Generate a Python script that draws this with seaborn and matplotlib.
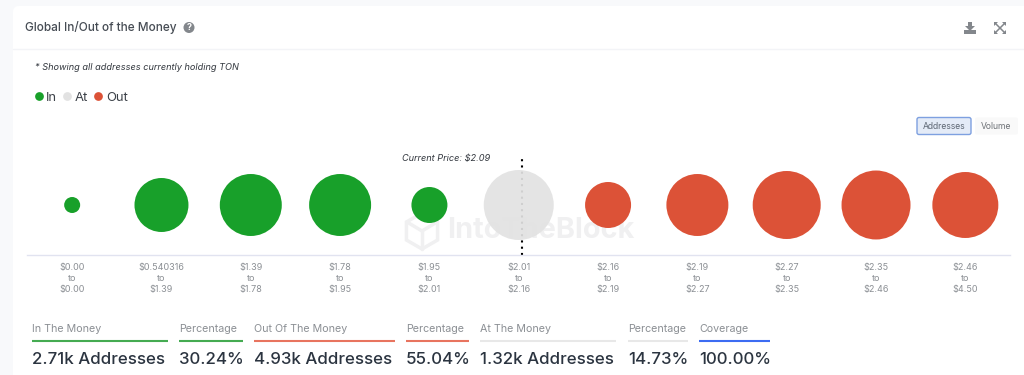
import pandas as pd
import matplotlib.pyplot as plt
import seaborn as sns
from matplotlib.lines import Line2D
from matplotlib.patches import Circle, FancyBboxPatch, Polygon, Rectangle, RegularPolygon

# Values
range_from = ['$0.00', '$0.540316', '$1.39', '$1.78', '$1.95', '$2.01', '$2.16', '$2.19', '$2.27', '$2.35', '$2.46']
range_to = ['$0.00', '$1.39', '$1.78', '$1.95', '$2.01', '$2.16', '$2.19', '$2.27', '$2.35', '$2.46', '$4.50']
addresses = [69, 785, 1035, 1035, 349, 1320, 570, 1035, 1246, 1282, 1173]
zones = ['In', 'In', 'In', 'In', 'In', 'At', 'Out', 'Out', 'Out', 'Out', 'Out']
current_price_pos = 5.04

stat_titles = ['In The Money', 'Percentage', 'Out Of The Money', 'Percentage', 'At The Money', 'Percentage', 'Coverage']
stat_values = ['2.71k Addresses', '30.24%', '4.93k Addresses', '55.04%', '1.32k Addresses', '14.73%', '100.00%']

zone_colors = {'In': '#18a02a', 'At': '#e2e2e2', 'Out': '#dc5237'}
stat_colors = ['#45ab52', '#45ab52', '#e8745f', '#e8745f', '#e8e8e8', '#e8e8e8', '#3c6cf2']
stat_left = [32, 179, 254, 406, 480, 628, 699]
stat_right = [168, 243, 395, 469, 616, 688, 770]

W, H = 1024, 375
TEXT_DARK = '#2b3440'
TEXT_GREY = '#8b8f94'
ICON_GREY = '#83878c'


def px_size(d):
    # bubble diameter in pixels to scatter area in pt^2
    return (d * 0.72) ** 2


def draw_chrome(bg):
    bg.add_patch(Rectangle((0, 0), W, H, fc='#f8f9fb', ec='none'))
    bg.add_patch(FancyBboxPatch((13, 6), W + 40, H + 40, boxstyle='round,pad=0,rounding_size=6', fc='white', ec='none'))
    bg.plot([13, W], [48.5, 48.5], color='#f3f4f7', lw=1)

    bg.text(25, 28, 'Global In/Out of the Money', fontsize=8.5, color='#464c54', fontweight='medium', va='center')
    bg.add_patch(Circle((189, 27.5), 5.5, fc=ICON_GREY, ec='none'))
    bg.text(189, 27.8, '?', fontsize=6.5, color='white', fontweight='bold', ha='center', va='center')
    bg.text(35, 67, '* Showing all addresses currently holding TON', fontsize=6.6, color='#33383f', style='italic', va='center')

    # download icon
    bg.add_patch(Rectangle((964, 30), 12, 4, fc=ICON_GREY, ec='none'))
    bg.add_patch(Polygon([[968, 22], [972, 22], [972, 26], [975, 26], [970, 31], [965, 26], [968, 26]], fc=ICON_GREY, ec='none'))
    # expand icon
    bg.plot([995, 1005], [23, 33], color=ICON_GREY, lw=1.1)
    bg.plot([995, 1005], [33, 23], color=ICON_GREY, lw=1.1)
    for cx, cy, sx, sy in [(995, 23, 1, 1), (1005, 23, -1, 1), (995, 33, 1, -1), (1005, 33, -1, -1)]:
        bg.add_patch(Polygon([[cx - sx, cy - sy], [cx + 3 * sx, cy - sy], [cx - sx, cy + 3 * sy]], fc=ICON_GREY, ec='none'))

    # Addresses / Volume toggle
    bg.add_patch(FancyBboxPatch((917, 117.5), 54, 17, boxstyle='round,pad=0,rounding_size=2', fc='#e4ebf7', ec='#7ea0e0', lw=1))
    bg.add_patch(FancyBboxPatch((975, 117.5), 43, 17, boxstyle='round,pad=0,rounding_size=2', fc='#f9f9f9', ec='none'))
    bg.text(944, 126.3, 'Addresses', fontsize=6.2, color='#5d6673', ha='center', va='center')
    bg.text(996, 126.3, 'Volume', fontsize=6.2, color='#6e7277', ha='center', va='center')

    # watermark
    logo = '#f0f0f1'
    bg.add_patch(RegularPolygon((422, 231), 6, radius=18, fill=False, ec=logo, lw=2.5))
    bg.plot([407, 422, 437], [222, 231, 222], color=logo, lw=2.5)
    bg.plot([422, 422], [231, 249], color=logo, lw=2.5)
    bg.text(447, 231, 'IntoTheBlock', fontsize=20.8, color=logo, fontweight='bold', va='center')

    bg.text(402, 159, 'Current Price: $2.09', fontsize=6.6, color='#33383f', style='italic', va='center')

    # summary row under the chart
    for i in range(len(stat_titles)):
        bg.text(stat_left[i], 328.5, stat_titles[i], fontsize=7.7, color=TEXT_GREY, va='center')
        bg.plot([stat_left[i], stat_right[i]], [341, 341], color=stat_colors[i], lw=1.5, solid_capstyle='butt')
        bg.text(stat_left[i], 359, stat_values[i], fontsize=12.2, color=TEXT_DARK, fontweight='medium', va='center')


def plot_bubbles(ax, df):
    # dotted line goes under the bubble, it only shows faintly through the grey one
    ax.axvline(current_price_pos, color='black', lw=1.5, dashes=(1, 2), zorder=1)
    sns.scatterplot(data=df, x='price_range', y='level', hue='zone', palette=zone_colors,
                    size='addresses', sizes=(px_size(16), px_size(70)), size_norm=(69, 1320),
                    linewidth=0, legend=False, zorder=3, ax=ax)
    ax.collections[-1].set_alpha([0.92 if z == 'At' else 1 for z in df['zone']])
    ax.set_xlim(-0.5, 10.5)
    ax.set_ylim(-1, 1)
    ax.set_xlabel('')
    ax.set_ylabel('')
    ax.set_yticks([])
    ax.tick_params(axis='x', length=0, pad=6, labelsize=6.5, labelcolor=TEXT_GREY)
    for label in ax.get_xticklabels():
        label.set_linespacing(1.25)
    sns.despine(ax=ax, left=True)
    ax.spines['bottom'].set_color('#e1e3f0')
    ax.spines['bottom'].set_linewidth(1)
    ax.patch.set_alpha(0)


sns.set_style('white')
plt.rcParams['font.family'] = ['Inter', 'DejaVu Sans']

df = pd.DataFrame({
    'price_range': [f'{a}\nto\n{b}' for a, b in zip(range_from, range_to)],
    'level': 0,
    'addresses': addresses,
    'zone': zones,
})

fig = plt.figure(figsize=(W / 100, H / 100), dpi=100)
bg = fig.add_axes([0, 0, 1, 1], zorder=0)
bg.set_xlim(0, W)
bg.set_ylim(H, 0)
bg.axis('off')
draw_chrome(bg)

ax = fig.add_axes([27.5 / W, 1 - 255 / H, 982.5 / W, 100 / H], zorder=1)
plot_bubbles(ax, df)

handles = [Line2D([], [], marker='o', ls='', ms=6.3, mew=0, color=zone_colors[z], label=z) for z in ['In', 'At', 'Out']]
fig.legend(handles=handles, loc='center left', bbox_to_anchor=(32 / W, 1 - 97.5 / H), ncol=3, frameon=False,
           fontsize=9.4, labelcolor='#3c4148', handlelength=1, handletextpad=0.1, columnspacing=0.25,
           borderpad=0, borderaxespad=0)

fig.savefig('out.png', dpi=100)
